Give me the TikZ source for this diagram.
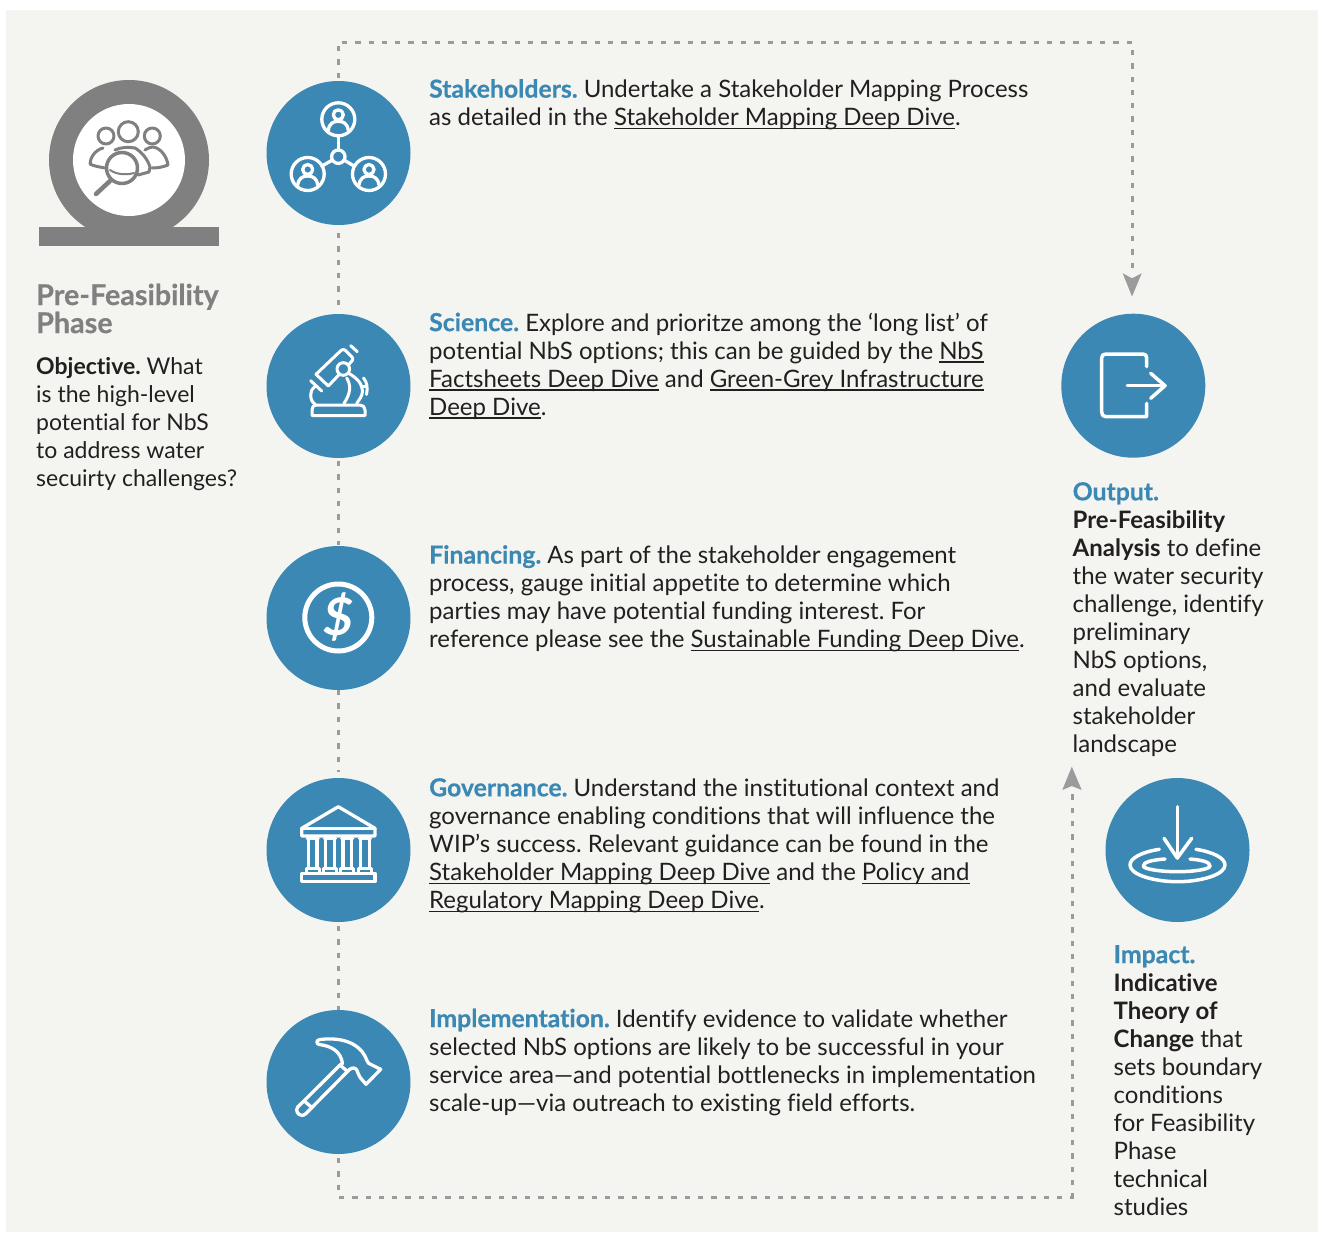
\documentclass[tikz,border=0pt]{standalone}
\usepackage{fontspec}
\setmainfont[Ligatures=NoCommon]{Lato}
\newfontfamily\hvy[Ligatures=NoCommon,BoldFeatures={FakeBold=0.5}]{Lato}
\usetikzlibrary{arrows.meta}
\definecolor{bg}{HTML}{F4F5F0}
\definecolor{blu}{HTML}{3B88B5}
\definecolor{gry}{HTML}{808080}
\definecolor{dsh}{HTML}{9A9B9D}
\definecolor{ink}{HTML}{231F20}
\newcommand{\hd}[1]{{\fontsize{24.8}{28}\hvy\bfseries\textcolor{blu}{#1}}}
\newcommand{\ul}[1]{\setbox0\hbox{#1}\rlap{\rule[-3.5pt]{\wd0}{1.3pt}}\box0 }
\tikzset{
 x=1pt,y=-1pt,
 disc/.style={circle,fill=blu,minimum size=144pt,inner sep=0pt},
 txt/.style={anchor=north west,inner sep=0pt,align=left,text=ink,font=\fontsize{24}{28}\selectfont\frenchspacing},
 flow/.style={draw=dsh,line width=3pt,dash pattern=on 5.3pt off 8pt},
 ico/.style={draw=white,line width=3.3pt,line cap=round,line join=round},
 head/.style={fill=dsh,draw=none}
}
\begin{document}
\begin{tikzpicture}
\useasboundingbox (0,0) rectangle (1320,1234);
\fill[white] (0,0) rectangle (1320,1234);
\fill[bg] (6,10) rectangle (1318,1232);
% flows
\coordinate (tl) at (338,42);
\coordinate (tr) at (1132,42);
\coordinate (oh) at (1132,270);
\coordinate (bl) at (338,1197);
\coordinate (br) at (1072,1197);
\coordinate (ih) at (1072,792);
\draw[flow] (338,78) -- (tl) -- (tr) -- (oh);
\draw[flow] (338,1158) -- (bl) -- (br) -- (ih);
\draw[flow] (338,233) -- (338,306);
\draw[flow] (338,461) -- (338,545);
\draw[flow] (338,690) -- (338,772);
\draw[flow] (338,926) -- (338,1010);
\fill[head] (1122.7,273.3) -- (1132,278.3) -- (1141.7,273.3) -- (1132,296.5) -- cycle;
\fill[head] (1062.3,790) -- (1071.8,786) -- (1081.7,790) -- (1071.8,766.7) -- cycle;
% nodes
\node[disc] (s1) at (338.5,153) {};
\node[disc] (s2) at (338.5,386) {};
\node[disc] (s3) at (338.5,618) {};
\node[disc] (s4) at (338.5,850) {};
\node[disc] (s5) at (338.5,1082) {};
\node[disc] (o) at (1133.3,385.7) {};
\node[disc] (im) at (1177.5,850) {};
% pre-feasibility icon
\fill[gry] (129,160) circle (80);
\fill[gry] (39,227) rectangle (219,246);
\fill[white] (129,160) circle (56);
\begin{scope}[draw=gry,line width=3pt,line cap=round,line join=round]
\draw (128.3,131.7) circle (10);
\draw (106,136) circle (8);
\draw (152.3,136) circle (8);
\draw (103,148) .. controls (95,150) and (90,158) .. (90,164) .. controls (93,166) and (100,167) .. (105,168);
\draw (145,150) .. controls (148,148) and (151,147) .. (153,147) .. controls (161,148) and (167,157) .. (168,165) .. controls (163,167) and (158,168) .. (152,168);
\draw (115,150) .. controls (121,147) and (129,147) .. (135,148) .. controls (142,152) and (148,160) .. (150,167) -- (149,172) -- (138,175);
\draw[line width=3.5pt,fill=white] (122,168) circle (15.5);
\draw[line width=2pt] (110,170) .. controls (117,175) and (127,175) .. (134,173);
\draw[line width=4.5pt] (110,181) -- (96,194);
\end{scope}
% stakeholders icon
\begin{scope}[ico]
\draw (338.3,119.3) circle (16.5);
\draw (307.7,174) circle (16.5);
\draw (369,174) circle (16.5);
\draw (338.3,156.7) circle (6.7);
\draw (338.3,136) -- (338.3,150);
\draw (332.5,160) -- (322,166);
\draw (344,160) -- (354,166);
\foreach \px/\py in {338.3/119.3,307.7/174,369/174}{
 \begin{scope}[shift={(\px,\py)}]
 \draw (0,-4.5) circle (5);
 \draw (-10,11) .. controls (-9,4) and (-5,2) .. (0,2) .. controls (5,2) and (9,4) .. (10,11);
 \end{scope}}
\end{scope}
% microscope icon
\begin{scope}[ico,line width=3pt]
\draw (316,374.3) -- (341,350.5) .. controls (342.5,349) and (344,349) .. (345.5,350.5) -- (352,357) .. controls (353,358.5) and (353,359.5) .. (352,361) -- (328.3,386) -- cycle;
\draw (350.7,345.7) -- (357.3,351.7);
\draw (310.7,380.7) -- (321.7,391);
\draw[fill=blu] (343.3,369) circle (6.3);
\draw (315,386.7) .. controls (311.5,389) and (310.7,392) .. (310.7,395) .. controls (310.7,399) and (312,402) .. (315,404.3);
\draw (349,373.5) .. controls (357,378) and (362.5,384) .. (362.5,391) .. controls (362.5,396) and (359,400) .. (356.7,403.3);
\draw (346.7,378) .. controls (351,385) and (351,393) .. (344,403.3);
\draw (361,386.7) -- (366,386.7);
\draw (363.5,378) .. controls (367,382) and (368,388) .. (366.5,394.5);
\draw (312,415.5) -- (312,410) .. controls (312,407) and (313.5,405) .. (316,405) -- (360,405) .. controls (363,405) and (365,407) .. (365,410) -- (365,415.5) -- cycle;
\end{scope}
% dollar
\draw[ico,line width=5pt] (338.3,617.5) circle (33.5);
\node[text=white,inner sep=0pt,font=\fontsize{52}{52}\selectfont\bfseries\itshape] (dl) at (338.5,617) {\$};
% governance icon
\begin{scope}[ico]
\draw (338.3,806.7) -- (375,828.3) -- (375,836) -- (301.7,836) -- (301.7,828.3) -- cycle;
\draw (301.7,828.3) -- (375,828.3);
\draw (301.7,873.5) rectangle (375,881.7);
\foreach \cc in {312.7,330,347.3,365}{
 \draw (\cc-5.5,838.5) -- (\cc+5.5,838.5);
 \draw (\cc-4.2,838.5) -- (\cc-4.2,868);
 \draw (\cc+4.2,838.5) -- (\cc+4.2,868);
 \draw (\cc-6.5,872) -- (\cc-6.5,868.5) -- (\cc+6.5,868.5) -- (\cc+6.5,872);
}
\end{scope}
% hammer
\begin{scope}[ico]
\draw (320,1039.5) .. controls (316,1040) and (316,1044) .. (319.3,1044.5) .. controls (332,1046) and (341,1052) .. (342.5,1063.5) -- (340,1065) -- (347.5,1071.5) .. controls (350,1068) and (354,1067) .. (356,1069) .. controls (358,1071) and (358,1075) .. (360,1077.3) -- (366,1084.3) -- (380.7,1069.3) -- (372,1065) .. controls (369,1065) and (367.5,1062) .. (366.7,1060) .. controls (363,1049) and (350,1036) .. (320,1039.5);
\draw (340,1065) -- (297.5,1107.3) .. controls (295.5,1110.5) and (297.5,1115) .. (301.7,1115.3) .. controls (303,1115.5) and (304.5,1115) .. (306,1113.5) -- (347.5,1071.5);
\draw (305,1101.7) -- (311.7,1107.3);
\end{scope}
% exit icon
\begin{scope}[ico,line width=3.5pt]
\draw (1146.7,366.7) -- (1146.7,358) .. controls (1146.7,355.5) and (1145.5,354) .. (1143,354) -- (1106,354) .. controls (1103,354) and (1101.7,355.5) .. (1101.7,358) -- (1101.7,412) .. controls (1101.7,415) and (1103,416.7) .. (1106,416.7) -- (1146.7,416.7) -- (1146.7,403.3);
\draw (1127.3,385.7) -- (1165,385.7);
\draw (1150.7,373.3) -- (1165,385.7) -- (1150.7,398.3);
\end{scope}
% impact icon
\begin{scope}[ico,line width=3.5pt]
\draw (1177.3,806.7) -- (1177.3,858);
\draw (1164,838.3) -- (1177.3,858) -- (1191.7,838.3);
\draw (1159.3,849.3) .. controls (1142,852) and (1130,858) .. (1130,865) .. controls (1130,875) and (1155,881.7) .. (1177.5,881.7) .. controls (1200,881.7) and (1225,875) .. (1225,865) .. controls (1225,858) and (1213,852) .. (1196,849.3);
\draw (1165,859) .. controls (1152,860) and (1143.3,862) .. (1143.3,866) .. controls (1143.3,869) and (1160,871.7) .. (1177.5,871.7) .. controls (1195,871.7) and (1210,869) .. (1210,866) .. controls (1210,862) and (1202,860) .. (1190,859);
\end{scope}
% texts
\node[txt,font=\fontsize{28.7}{28}\hvy\bfseries,text=gry] (pf) at (36,283.5) {Pre-Feasibility\\Phase};
\node[txt,font=\fontsize{23}{28}\selectfont\frenchspacing] (obj) at (36,357) {\textbf{Objective.} What\\is the high-level\\potential for NbS\\to address water\\secuirty challenges?};
\node[txt] (t1) at (429,79) {\hd{Stakeholders.} Undertake a Stakeholder Mapping Process\\as detailed in the \ul{Stakeholder Mapping Deep Dive}.};
\node[txt] (t2) at (429,312.5) {\hd{Science.} Explore and prioritze among the ‘long list’ of\\potential NbS options; this can be guided by the \ul{NbS}\\\ul{Factsheets Deep Dive} and \ul{Green-Grey Infrastructure}\\\ul{Deep Dive}.};
\node[txt] (t3) at (429,545) {\hd{Financing.} As part of the stakeholder engagement\\process, gauge initial appetite to determine which\\parties may have potential funding interest. For\\reference please see the \ul{Sustainable Funding Deep Dive}.};
\node[txt] (t4) at (429,778) {\hd{Governance.} Understand the institutional context and\\governance enabling conditions that will influence the\\WIP’s success. Relevant guidance can be found in the\\\ul{Stakeholder Mapping Deep Dive} and the \ul{Policy and}\\\ul{Regulatory Mapping Deep Dive}.};
\node[txt] (t5) at (429,1008.5) {\hd{Implementation.} Identify evidence to validate whether\\selected NbS options are likely to be successful in your\\service area—and potential bottlenecks in implementation\\scale-up—via outreach to existing field efforts.};
\node[txt] (t6) at (1072.5,482) {\hd{Output.}\\\textbf{Pre-Feasibility}\\\textbf{Analysis} to define\\the water security\\challenge, identify\\preliminary\\NbS options,\\and evaluate\\stakeholder\\landscape};
\node[txt] (t7) at (1113.5,945) {\hd{Impact.}\\\textbf{Indicative}\\\textbf{Theory of}\\\textbf{Change} that\\sets boundary\\conditions\\for Feasibility\\Phase\\technical\\studies};
\end{tikzpicture}
\end{document}
